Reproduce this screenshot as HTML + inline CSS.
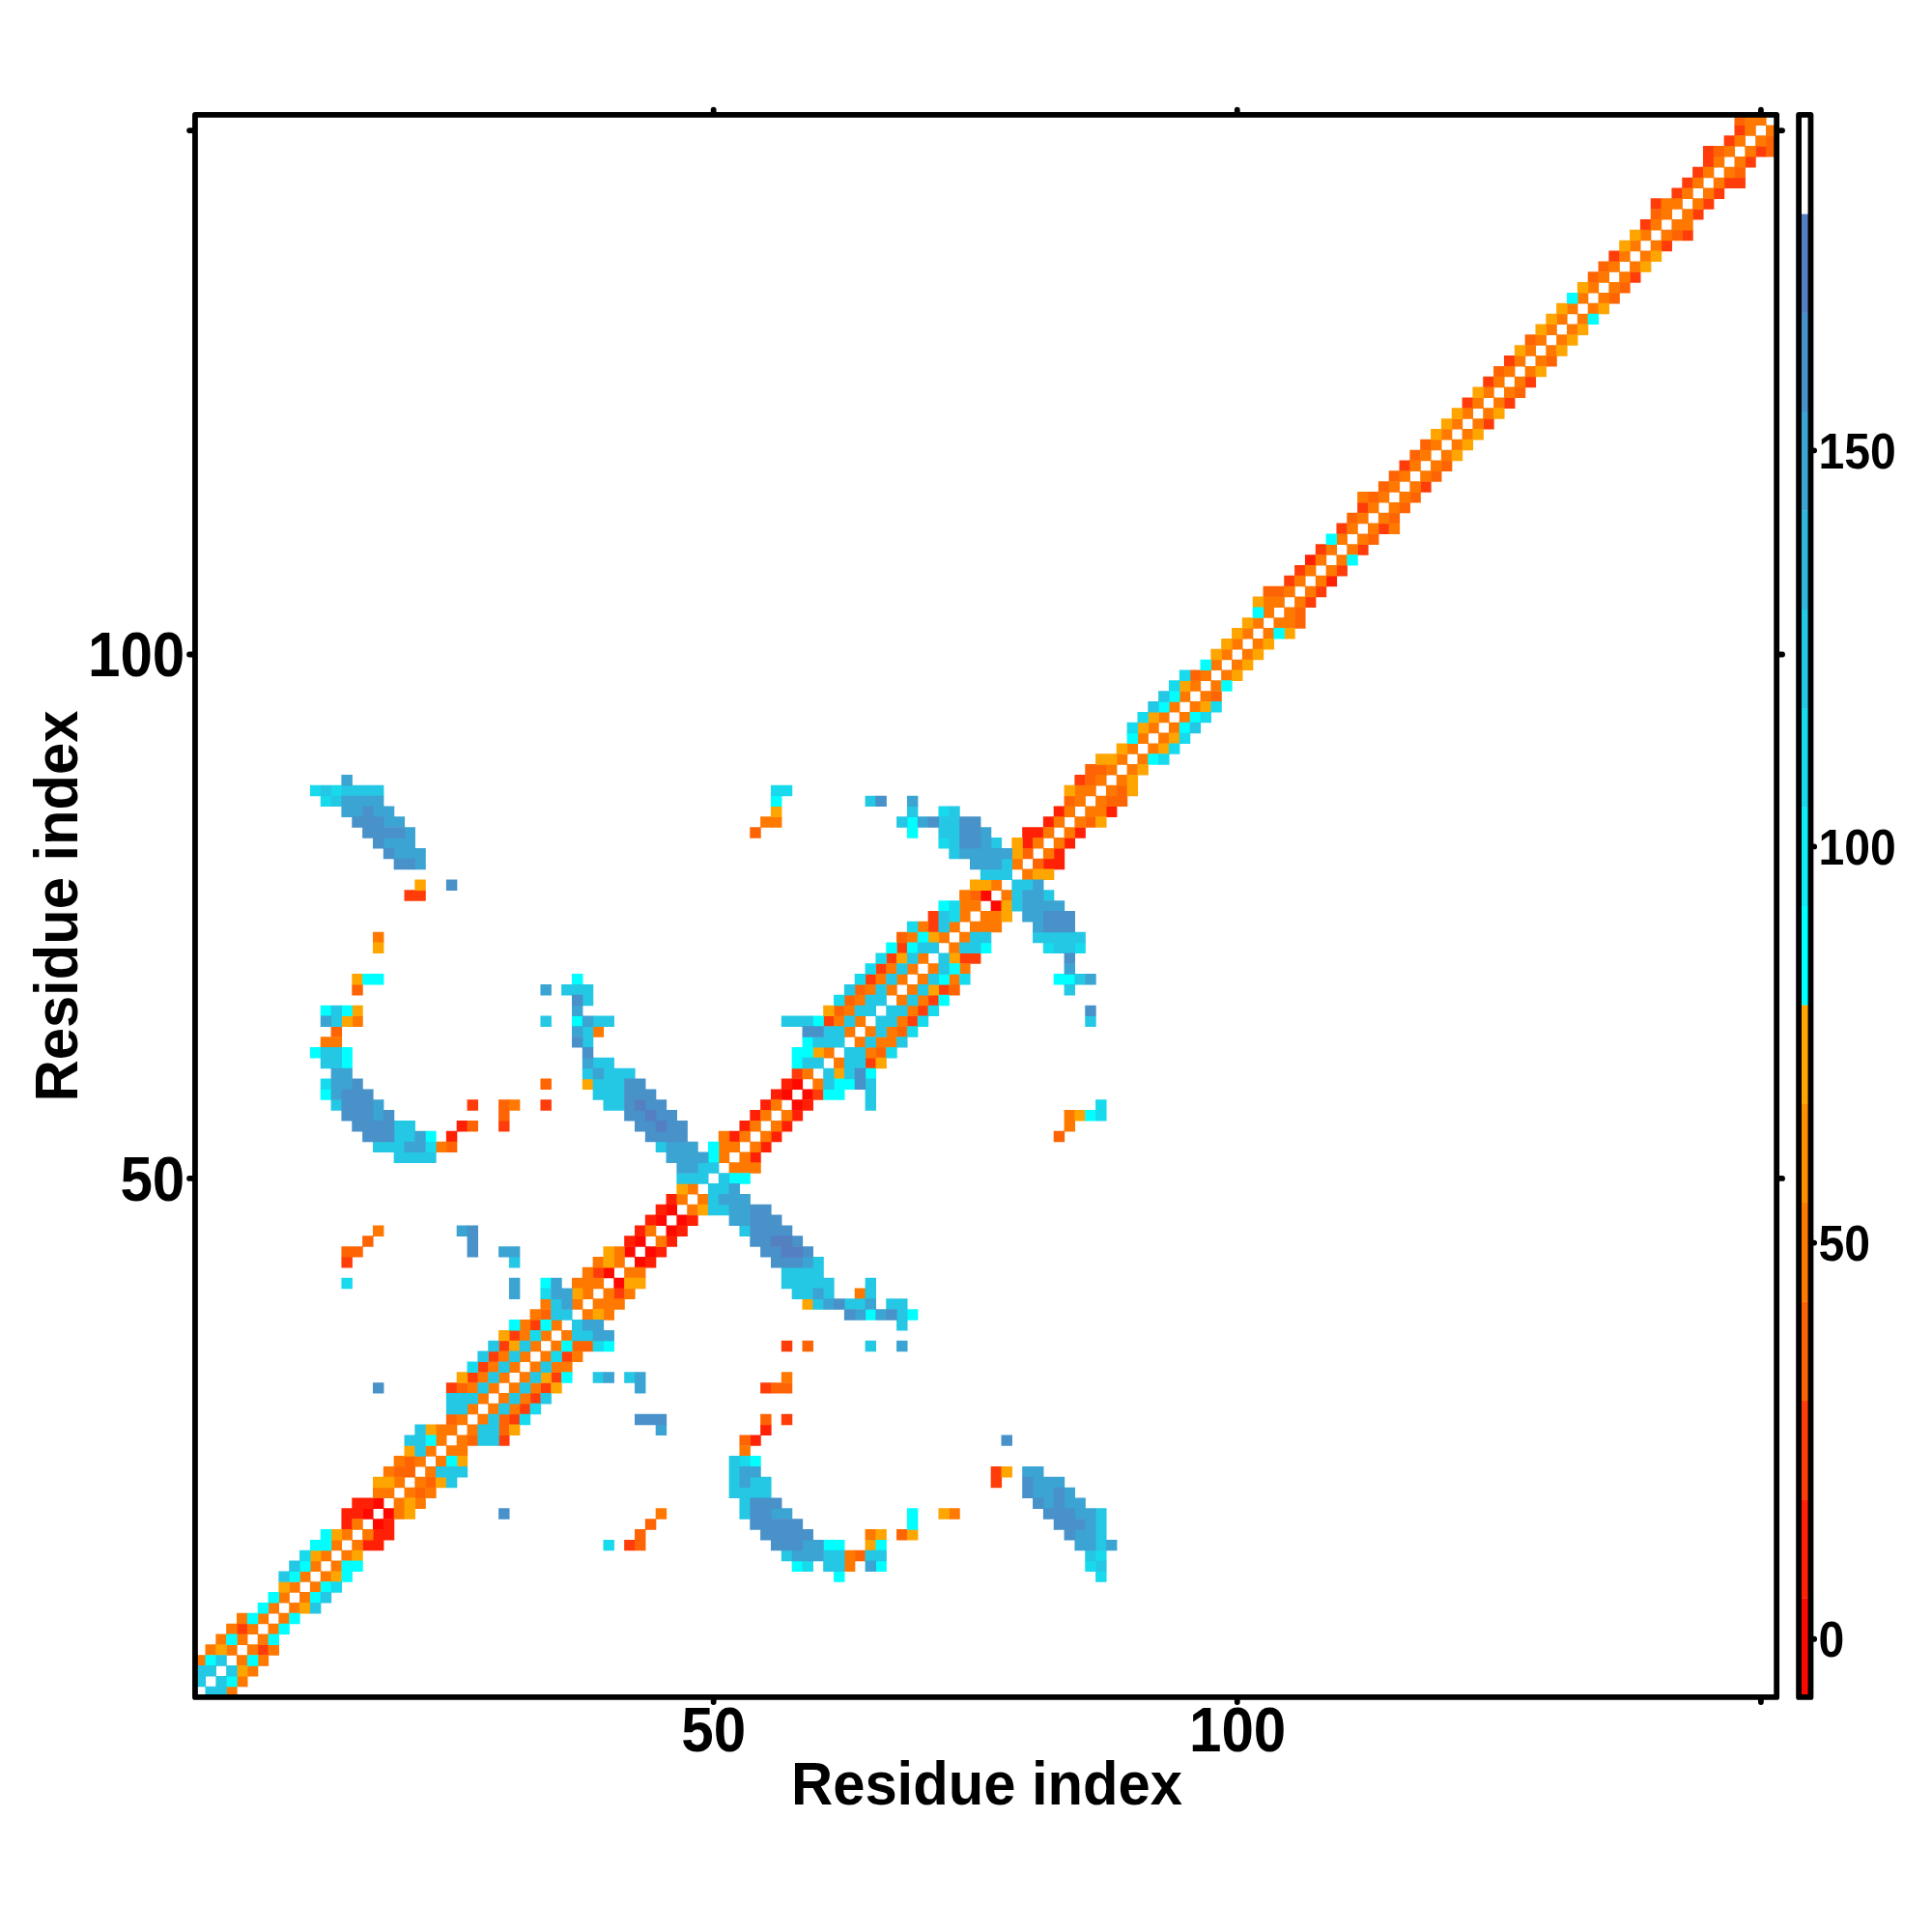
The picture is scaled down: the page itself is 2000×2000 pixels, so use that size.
<!DOCTYPE html>
<html><head><meta charset="utf-8"><title>Residue contact map</title>
<style>html,body{margin:0;padding:0;background:#fff}svg{display:block}text{font-family:"Liberation Sans",Arial,Helvetica,sans-serif;font-weight:bold;fill:#000}</style>
</head><body>
<svg width="2000" height="2000" viewBox="0 0 2000 2000">
<rect width="2000" height="2000" fill="#fff"/>
<g>
<path fill="#FF0800" d="M385.97 1572.18h11.44v11.45h-11.44zM375.13 1561.33h11.44v11.45h-11.44zM396.81 1561.33h11.44v11.45h-11.44zM385.97 1550.49h11.44v11.45h-11.44zM635.35 1322.68h11.44v11.45h-11.44zM624.50 1311.83h11.44v11.45h-11.44zM657.03 1300.98h11.44v11.45h-11.44zM646.19 1290.13h11.44v11.45h-11.44zM667.87 1290.13h11.44v11.45h-11.44zM657.03 1279.28h11.44v11.45h-11.44zM689.56 1268.44h11.44v11.45h-11.44zM678.71 1257.59h11.44v11.45h-11.44zM700.40 1257.59h11.44v11.45h-11.44zM689.56 1246.74h11.44v11.45h-11.44zM819.67 1138.26h11.44v11.45h-11.44zM808.82 1127.41h11.44v11.45h-11.44zM830.51 1127.41h11.44v11.45h-11.44zM819.67 1116.56h11.44v11.45h-11.44zM1025.67 932.15h11.44v11.45h-11.44zM1014.83 921.30h11.44v11.45h-11.44z"/>
<path fill="#FF2006" d="M375.13 1593.88h22.28v11.45h-22.28zM385.97 1583.03h22.28v11.45h-22.28zM353.44 1572.18h11.44v11.45h-11.44zM396.81 1572.18h11.44v11.45h-11.44zM353.44 1561.33h22.28v11.45h-22.28zM364.29 1550.49h22.28v11.45h-22.28zM776.30 1485.40h11.44v11.45h-11.44zM787.14 1474.55h11.44v11.45h-11.44zM667.87 1300.98h11.44v11.45h-11.44zM678.71 1290.13h11.44v11.45h-11.44zM646.19 1279.28h11.44v11.45h-11.44zM689.56 1279.28h11.44v11.45h-11.44zM657.03 1268.44h11.44v11.45h-11.44zM700.40 1268.44h11.44v11.45h-11.44zM667.87 1257.59h11.44v11.45h-11.44zM711.24 1257.59h11.44v11.45h-11.44zM678.71 1246.74h11.44v11.45h-11.44zM689.56 1235.89h11.44v11.45h-11.44zM776.30 1192.50h11.44v11.45h-11.44zM787.14 1181.65h11.44v11.45h-11.44zM461.87 1170.80h11.44v11.45h-11.44zM754.61 1170.80h11.44v11.45h-11.44zM797.98 1170.80h11.44v11.45h-11.44zM472.71 1159.96h11.44v11.45h-11.44zM765.45 1159.96h11.44v11.45h-11.44zM808.82 1159.96h11.44v11.45h-11.44zM776.30 1149.11h11.44v11.45h-11.44zM819.67 1149.11h11.44v11.45h-11.44zM787.14 1138.26h11.44v11.45h-11.44zM830.51 1138.26h11.44v11.45h-11.44zM797.98 1127.41h11.44v11.45h-11.44zM808.82 1116.56h11.44v11.45h-11.44zM1079.88 888.75h22.28v11.45h-22.28zM1090.73 877.91h11.44v11.45h-11.44zM1058.20 867.06h11.44v11.45h-11.44zM1101.57 867.06h11.44v11.45h-11.44zM1058.20 856.21h22.28v11.45h-22.28zM1112.41 856.21h11.44v11.45h-11.44zM1079.88 845.36h11.44v11.45h-11.44zM1090.73 834.51h11.44v11.45h-11.44zM1144.94 834.51h11.44v11.45h-11.44zM1372.63 595.86h11.44v11.45h-11.44zM1350.94 574.16h11.44v11.45h-11.44z"/>
<path fill="#FF3C0A" d="M266.70 1702.36h11.44v11.45h-11.44zM245.02 1680.66h11.44v11.45h-11.44zM646.19 1593.88h11.44v11.45h-11.44zM1025.67 1528.79h11.44v11.45h-11.44zM1025.67 1517.94h11.44v11.45h-11.44zM516.08 1485.40h11.44v11.45h-11.44zM526.92 1463.70h11.44v11.45h-11.44zM808.82 1463.70h11.44v11.45h-11.44zM537.76 1452.85h11.44v11.45h-11.44zM548.61 1442.01h11.44v11.45h-11.44zM461.87 1431.16h11.44v11.45h-11.44zM559.45 1431.16h11.44v11.45h-11.44zM787.14 1431.16h11.44v11.45h-11.44zM483.55 1420.31h11.44v11.45h-11.44zM570.29 1420.31h11.44v11.45h-11.44zM494.39 1409.46h11.44v11.45h-11.44zM505.24 1398.61h11.44v11.45h-11.44zM581.13 1398.61h11.44v11.45h-11.44zM516.08 1387.77h11.44v11.45h-11.44zM808.82 1387.77h11.44v11.45h-11.44zM526.92 1376.92h11.44v11.45h-11.44zM548.61 1366.07h11.44v11.45h-11.44zM635.35 1333.52h11.44v11.45h-11.44zM613.66 1311.83h11.44v11.45h-11.44zM353.44 1300.98h11.44v11.45h-11.44zM516.08 1159.96h11.44v11.45h-11.44zM483.55 1138.26h11.44v11.45h-11.44zM559.45 1138.26h11.44v11.45h-11.44zM841.35 1127.41h11.44v11.45h-11.44zM819.67 1105.72h11.44v11.45h-11.44zM895.56 1094.87h11.44v11.45h-11.44zM852.19 1051.47h11.44v11.45h-11.44zM938.93 1051.47h11.44v11.45h-11.44zM949.77 1040.63h11.44v11.45h-11.44zM960.62 1029.78h11.44v11.45h-11.44zM971.46 1018.93h11.44v11.45h-11.44zM895.56 1008.08h11.44v11.45h-11.44zM906.40 997.23h11.44v11.45h-11.44zM917.25 986.39h11.44v11.45h-11.44zM993.14 986.39h22.28v11.45h-22.28zM928.09 975.54h11.44v11.45h-11.44zM960.62 953.84h11.44v11.45h-11.44zM960.62 942.99h11.44v11.45h-11.44zM418.50 921.30h22.28v11.45h-22.28zM1112.41 801.97h11.44v11.45h-11.44zM1350.94 617.55h11.44v11.45h-11.44zM1361.79 606.70h11.44v11.45h-11.44zM1329.26 595.86h11.44v11.45h-11.44zM1340.10 585.01h11.44v11.45h-11.44zM1383.47 585.01h11.44v11.45h-11.44zM1361.79 563.31h11.44v11.45h-11.44zM1405.15 563.31h11.44v11.45h-11.44zM1383.47 541.62h11.44v11.45h-11.44zM1426.84 541.62h11.44v11.45h-11.44zM1405.15 519.92h11.44v11.45h-11.44zM1470.21 498.22h11.44v11.45h-11.44zM1448.52 476.53h11.44v11.45h-11.44zM1535.26 433.13h11.44v11.45h-11.44zM1513.58 411.44h11.44v11.45h-11.44zM1556.95 411.44h11.44v11.45h-11.44zM1535.26 389.74h11.44v11.45h-11.44zM1578.63 389.74h11.44v11.45h-11.44zM1556.95 368.05h11.44v11.45h-11.44zM1687.06 281.26h11.44v11.45h-11.44zM1665.37 259.57h11.44v11.45h-11.44zM1719.58 248.72h11.44v11.45h-11.44zM1741.27 237.87h11.44v11.45h-11.44zM1697.90 227.02h11.44v11.45h-11.44zM1752.11 216.17h11.44v11.45h-11.44zM1708.74 205.32h11.44v11.45h-11.44zM1762.95 205.32h11.44v11.45h-11.44zM1730.43 194.48h11.44v11.45h-11.44zM1773.80 194.48h11.44v11.45h-11.44zM1741.27 183.63h11.44v11.45h-11.44zM1784.64 183.63h22.28v11.45h-22.28zM1752.11 172.78h11.44v11.45h-11.44zM1762.95 161.93h11.44v11.45h-11.44zM1806.32 161.93h11.44v11.45h-11.44zM1762.95 151.08h11.44v11.45h-11.44zM1817.17 151.08h11.44v11.45h-11.44zM1784.64 140.24h11.44v11.45h-11.44zM1795.48 129.39h11.44v11.45h-11.44z"/>
<path fill="#FF6404" d="M884.72 1604.73h11.44v11.45h-11.44zM657.03 1593.88h11.44v11.45h-11.44zM657.03 1583.03h11.44v11.45h-11.44zM928.09 1583.03h11.44v11.45h-11.44zM667.87 1572.18h11.44v11.45h-11.44zM429.34 1539.64h11.44v11.45h-11.44zM440.18 1528.79h11.44v11.45h-11.44zM407.66 1517.94h22.28v11.45h-22.28zM418.50 1507.09h11.44v11.45h-11.44zM483.55 1485.40h11.44v11.45h-11.44zM765.45 1485.40h11.44v11.45h-11.44zM516.08 1474.55h11.44v11.45h-11.44zM461.87 1463.70h11.44v11.45h-11.44zM516.08 1463.70h11.44v11.45h-11.44zM787.14 1463.70h11.44v11.45h-11.44zM472.71 1431.16h11.44v11.45h-11.44zM797.98 1431.16h22.28v11.45h-22.28zM591.98 1387.77h22.28v11.45h-22.28zM830.51 1387.77h11.44v11.45h-11.44zM559.45 1355.22h11.44v11.45h-11.44zM353.44 1290.13h22.28v11.45h-22.28zM375.13 1279.28h11.44v11.45h-11.44zM461.87 1181.65h11.44v11.45h-11.44zM1090.73 1170.80h11.44v11.45h-11.44zM483.55 1159.96h11.44v11.45h-11.44zM516.08 1149.11h11.44v11.45h-11.44zM516.08 1138.26h11.44v11.45h-11.44zM559.45 1116.56h11.44v11.45h-11.44zM906.40 1084.02h11.44v11.45h-11.44zM342.60 1062.32h11.44v11.45h-11.44zM928.09 1062.32h11.44v11.45h-11.44zM863.04 1040.63h11.44v11.45h-11.44zM873.88 1029.78h11.44v11.45h-11.44zM364.29 1018.93h11.44v11.45h-11.44zM884.72 1018.93h11.44v11.45h-11.44zM982.30 1018.93h11.44v11.45h-11.44zM928.09 964.69h11.44v11.45h-11.44zM1003.99 921.30h11.44v11.45h-11.44zM1069.04 888.75h11.44v11.45h-11.44zM1058.20 877.91h11.44v11.45h-11.44zM776.30 856.21h11.44v11.45h-11.44zM1123.25 845.36h11.44v11.45h-11.44zM1101.57 823.67h11.44v11.45h-11.44zM1144.94 823.67h22.28v11.45h-22.28zM1155.78 812.82h11.44v11.45h-11.44zM1123.25 801.97h11.44v11.45h-11.44zM1123.25 791.12h22.28v11.45h-22.28zM1253.36 715.18h11.44v11.45h-11.44zM1231.68 693.49h11.44v11.45h-11.44zM1340.10 639.25h11.44v11.45h-11.44zM1340.10 628.40h11.44v11.45h-11.44zM1307.57 606.70h22.28v11.45h-22.28zM1416.00 552.46h11.44v11.45h-11.44zM1394.31 530.77h11.44v11.45h-11.44zM1437.68 530.77h11.44v11.45h-11.44zM1448.52 519.92h11.44v11.45h-11.44zM1416.00 509.07h11.44v11.45h-11.44zM1459.37 509.07h11.44v11.45h-11.44zM1426.84 498.22h11.44v11.45h-11.44zM1437.68 487.37h11.44v11.45h-11.44zM1481.05 487.37h11.44v11.45h-11.44zM1491.89 476.53h11.44v11.45h-11.44zM1459.37 465.68h11.44v11.45h-11.44zM1470.21 454.83h11.44v11.45h-11.44zM1567.79 400.59h11.44v11.45h-11.44zM1546.11 378.89h11.44v11.45h-11.44zM1600.32 368.05h11.44v11.45h-11.44zM1578.63 346.35h11.44v11.45h-11.44zM1665.37 302.96h11.44v11.45h-11.44zM1676.21 292.11h11.44v11.45h-11.44zM1643.69 281.26h11.44v11.45h-11.44zM1654.53 270.41h11.44v11.45h-11.44zM1730.43 237.87h11.44v11.45h-11.44zM1708.74 216.17h11.44v11.45h-11.44zM1795.48 172.78h11.44v11.45h-11.44zM1773.80 151.08h11.44v11.45h-11.44zM1828.01 151.08h11.44v11.45h-11.44zM1828.01 140.24h11.44v11.45h-11.44zM1795.48 118.54h11.44v11.45h-11.44z"/>
<path fill="#FF7800" d="M234.18 1745.75h11.44v11.45h-11.44zM245.02 1734.90h11.44v11.45h-11.44zM255.86 1724.06h11.44v11.45h-11.44zM201.65 1713.21h11.44v11.45h-11.44zM245.02 1713.21h11.44v11.45h-11.44zM266.70 1713.21h11.44v11.45h-11.44zM212.49 1702.36h11.44v11.45h-11.44zM234.18 1702.36h11.44v11.45h-11.44zM255.86 1702.36h11.44v11.45h-11.44zM277.55 1702.36h11.44v11.45h-11.44zM223.33 1691.51h11.44v11.45h-11.44zM245.02 1691.51h11.44v11.45h-11.44zM266.70 1691.51h11.44v11.45h-11.44zM234.18 1680.66h11.44v11.45h-11.44zM255.86 1680.66h11.44v11.45h-11.44zM277.55 1680.66h11.44v11.45h-11.44zM245.02 1669.82h11.44v11.45h-11.44zM266.70 1669.82h11.44v11.45h-11.44zM288.39 1669.82h11.44v11.45h-11.44zM277.55 1658.97h11.44v11.45h-11.44zM299.23 1658.97h11.44v11.45h-11.44zM288.39 1648.12h11.44v11.45h-11.44zM310.07 1648.12h11.44v11.45h-11.44zM299.23 1637.27h11.44v11.45h-11.44zM320.92 1637.27h11.44v11.45h-11.44zM310.07 1626.42h11.44v11.45h-11.44zM331.76 1626.42h11.44v11.45h-11.44zM320.92 1615.57h11.44v11.45h-11.44zM342.60 1615.57h11.44v11.45h-11.44zM873.88 1615.57h11.44v11.45h-11.44zM331.76 1604.73h11.44v11.45h-11.44zM353.44 1604.73h11.44v11.45h-11.44zM873.88 1604.73h11.44v11.45h-11.44zM342.60 1593.88h11.44v11.45h-11.44zM364.29 1593.88h11.44v11.45h-11.44zM353.44 1583.03h11.44v11.45h-11.44zM375.13 1583.03h11.44v11.45h-11.44zM895.56 1583.03h11.44v11.45h-11.44zM364.29 1572.18h11.44v11.45h-11.44zM407.66 1561.33h11.44v11.45h-11.44zM678.71 1561.33h11.44v11.45h-11.44zM982.30 1561.33h11.44v11.45h-11.44zM407.66 1550.49h11.44v11.45h-11.44zM429.34 1550.49h11.44v11.45h-11.44zM385.97 1539.64h22.28v11.45h-22.28zM418.50 1539.64h11.44v11.45h-11.44zM440.18 1539.64h11.44v11.45h-11.44zM407.66 1528.79h11.44v11.45h-11.44zM429.34 1528.79h11.44v11.45h-11.44zM396.81 1517.94h11.44v11.45h-11.44zM440.18 1517.94h11.44v11.45h-11.44zM407.66 1507.09h11.44v11.45h-11.44zM429.34 1507.09h11.44v11.45h-11.44zM451.02 1507.09h11.44v11.45h-11.44zM440.18 1496.25h11.44v11.45h-11.44zM461.87 1496.25h22.28v11.45h-22.28zM765.45 1496.25h11.44v11.45h-11.44zM451.02 1485.40h11.44v11.45h-11.44zM472.71 1485.40h11.44v11.45h-11.44zM451.02 1474.55h22.28v11.45h-22.28zM483.55 1474.55h11.44v11.45h-11.44zM472.71 1463.70h11.44v11.45h-11.44zM494.39 1463.70h11.44v11.45h-11.44zM483.55 1452.85h11.44v11.45h-11.44zM505.24 1452.85h11.44v11.45h-11.44zM526.92 1452.85h11.44v11.45h-11.44zM494.39 1442.01h11.44v11.45h-11.44zM516.08 1442.01h11.44v11.45h-11.44zM537.76 1442.01h11.44v11.45h-11.44zM483.55 1431.16h11.44v11.45h-11.44zM505.24 1431.16h11.44v11.45h-11.44zM526.92 1431.16h11.44v11.45h-11.44zM548.61 1431.16h11.44v11.45h-11.44zM494.39 1420.31h11.44v11.45h-11.44zM516.08 1420.31h11.44v11.45h-11.44zM537.76 1420.31h11.44v11.45h-11.44zM808.82 1420.31h11.44v11.45h-11.44zM505.24 1409.46h11.44v11.45h-11.44zM526.92 1409.46h11.44v11.45h-11.44zM548.61 1409.46h11.44v11.45h-11.44zM570.29 1409.46h22.28v11.45h-22.28zM516.08 1398.61h11.44v11.45h-11.44zM537.76 1398.61h11.44v11.45h-11.44zM559.45 1398.61h11.44v11.45h-11.44zM591.98 1398.61h11.44v11.45h-11.44zM548.61 1387.77h11.44v11.45h-11.44zM570.29 1387.77h11.44v11.45h-11.44zM537.76 1376.92h11.44v11.45h-11.44zM559.45 1376.92h11.44v11.45h-11.44zM581.13 1376.92h11.44v11.45h-11.44zM537.76 1366.07h11.44v11.45h-11.44zM570.29 1366.07h11.44v11.45h-11.44zM548.61 1355.22h11.44v11.45h-11.44zM602.82 1355.22h11.44v11.45h-11.44zM624.50 1355.22h11.44v11.45h-11.44zM559.45 1344.37h11.44v11.45h-11.44zM591.98 1344.37h11.44v11.45h-11.44zM613.66 1344.37h33.13v11.45h-33.13zM602.82 1333.52h11.44v11.45h-11.44zM624.50 1333.52h11.44v11.45h-11.44zM646.19 1333.52h11.44v11.45h-11.44zM884.72 1333.52h11.44v11.45h-11.44zM591.98 1322.68h33.13v11.45h-33.13zM602.82 1311.83h11.44v11.45h-11.44zM646.19 1311.83h22.28v11.45h-22.28zM613.66 1300.98h11.44v11.45h-11.44zM635.35 1300.98h11.44v11.45h-11.44zM635.35 1290.13h11.44v11.45h-11.44zM678.71 1279.28h11.44v11.45h-11.44zM385.97 1268.44h11.44v11.45h-11.44zM667.87 1268.44h11.44v11.45h-11.44zM711.24 1246.74h11.44v11.45h-11.44zM700.40 1235.89h11.44v11.45h-11.44zM722.08 1235.89h11.44v11.45h-11.44zM711.24 1225.04h11.44v11.45h-11.44zM754.61 1203.35h33.13v11.45h-33.13zM743.77 1192.50h11.44v11.45h-11.44zM765.45 1192.50h11.44v11.45h-11.44zM451.02 1181.65h11.44v11.45h-11.44zM743.77 1181.65h22.28v11.45h-22.28zM776.30 1181.65h11.44v11.45h-11.44zM743.77 1170.80h11.44v11.45h-11.44zM765.45 1170.80h11.44v11.45h-11.44zM787.14 1170.80h11.44v11.45h-11.44zM776.30 1159.96h11.44v11.45h-11.44zM797.98 1159.96h11.44v11.45h-11.44zM1101.57 1159.96h11.44v11.45h-11.44zM787.14 1149.11h11.44v11.45h-11.44zM808.82 1149.11h11.44v11.45h-11.44zM1101.57 1149.11h11.44v11.45h-11.44zM526.92 1138.26h11.44v11.45h-11.44zM797.98 1138.26h11.44v11.45h-11.44zM841.35 1116.56h11.44v11.45h-11.44zM830.51 1105.72h11.44v11.45h-11.44zM863.04 1094.87h11.44v11.45h-11.44zM852.19 1084.02h11.44v11.45h-11.44zM895.56 1084.02h11.44v11.45h-11.44zM331.76 1073.17h22.28v11.45h-22.28zM884.72 1073.17h11.44v11.45h-11.44zM906.40 1073.17h22.28v11.45h-22.28zM613.66 1062.32h11.44v11.45h-11.44zM873.88 1062.32h11.44v11.45h-11.44zM895.56 1062.32h11.44v11.45h-11.44zM917.25 1062.32h11.44v11.45h-11.44zM364.29 1051.47h11.44v11.45h-11.44zM863.04 1051.47h11.44v11.45h-11.44zM884.72 1051.47h11.44v11.45h-11.44zM928.09 1051.47h11.44v11.45h-11.44zM873.88 1040.63h11.44v11.45h-11.44zM938.93 1040.63h11.44v11.45h-11.44zM884.72 1029.78h11.44v11.45h-11.44zM928.09 1029.78h11.44v11.45h-11.44zM949.77 1029.78h11.44v11.45h-11.44zM895.56 1018.93h11.44v11.45h-11.44zM917.25 1018.93h11.44v11.45h-11.44zM938.93 1018.93h11.44v11.45h-11.44zM906.40 1008.08h11.44v11.45h-11.44zM928.09 1008.08h11.44v11.45h-11.44zM949.77 1008.08h11.44v11.45h-11.44zM982.30 1008.08h11.44v11.45h-11.44zM917.25 997.23h11.44v11.45h-11.44zM938.93 997.23h11.44v11.45h-11.44zM960.62 997.23h11.44v11.45h-11.44zM993.14 997.23h11.44v11.45h-11.44zM949.77 986.39h11.44v11.45h-11.44zM982.30 975.54h11.44v11.45h-11.44zM385.97 964.69h11.44v11.45h-11.44zM938.93 964.69h11.44v11.45h-11.44zM971.46 964.69h11.44v11.45h-11.44zM993.14 964.69h11.44v11.45h-11.44zM949.77 953.84h11.44v11.45h-11.44zM982.30 953.84h11.44v11.45h-11.44zM1003.99 953.84h33.13v11.45h-33.13zM993.14 942.99h11.44v11.45h-11.44zM1014.83 942.99h22.28v11.45h-22.28zM993.14 932.15h22.28v11.45h-22.28zM993.14 921.30h11.44v11.45h-11.44zM1036.51 921.30h11.44v11.45h-11.44zM1025.67 910.45h11.44v11.45h-11.44zM1058.20 899.60h11.44v11.45h-11.44zM1047.36 888.75h11.44v11.45h-11.44zM1079.88 877.91h11.44v11.45h-11.44zM1069.04 867.06h11.44v11.45h-11.44zM1090.73 867.06h11.44v11.45h-11.44zM1079.88 856.21h11.44v11.45h-11.44zM1101.57 856.21h11.44v11.45h-11.44zM787.14 845.36h22.28v11.45h-22.28zM1090.73 845.36h11.44v11.45h-11.44zM1112.41 845.36h11.44v11.45h-11.44zM1101.57 834.51h11.44v11.45h-11.44zM1123.25 834.51h22.28v11.45h-22.28zM1112.41 823.67h11.44v11.45h-11.44zM1134.10 823.67h11.44v11.45h-11.44zM1112.41 812.82h22.28v11.45h-22.28zM1144.94 812.82h11.44v11.45h-11.44zM1134.10 801.97h11.44v11.45h-11.44zM1155.78 801.97h11.44v11.45h-11.44zM1144.94 791.12h11.44v11.45h-11.44zM1166.62 791.12h11.44v11.45h-11.44zM1155.78 780.27h11.44v11.45h-11.44zM1177.46 780.27h11.44v11.45h-11.44zM1166.62 769.42h11.44v11.45h-11.44zM1188.31 769.42h11.44v11.45h-11.44zM1177.46 758.58h11.44v11.45h-11.44zM1199.15 758.58h11.44v11.45h-11.44zM1188.31 747.73h11.44v11.45h-11.44zM1209.99 747.73h11.44v11.45h-11.44zM1199.15 736.88h11.44v11.45h-11.44zM1220.83 736.88h11.44v11.45h-11.44zM1209.99 726.03h11.44v11.45h-11.44zM1231.68 726.03h11.44v11.45h-11.44zM1220.83 715.18h11.44v11.45h-11.44zM1242.52 715.18h11.44v11.45h-11.44zM1231.68 704.34h11.44v11.45h-11.44zM1253.36 704.34h11.44v11.45h-11.44zM1242.52 693.49h11.44v11.45h-11.44zM1264.20 693.49h11.44v11.45h-11.44zM1253.36 682.64h11.44v11.45h-11.44zM1275.05 682.64h11.44v11.45h-11.44zM1264.20 671.79h11.44v11.45h-11.44zM1285.89 671.79h11.44v11.45h-11.44zM1275.05 660.94h11.44v11.45h-11.44zM1296.73 660.94h11.44v11.45h-11.44zM1285.89 650.10h11.44v11.45h-11.44zM1307.57 650.10h11.44v11.45h-11.44zM1296.73 639.25h11.44v11.45h-11.44zM1318.42 639.25h22.28v11.45h-22.28zM1307.57 628.40h11.44v11.45h-11.44zM1329.26 628.40h11.44v11.45h-11.44zM1307.57 617.55h22.28v11.45h-22.28zM1340.10 617.55h11.44v11.45h-11.44zM1329.26 606.70h11.44v11.45h-11.44zM1350.94 606.70h11.44v11.45h-11.44zM1340.10 595.86h11.44v11.45h-11.44zM1361.79 595.86h11.44v11.45h-11.44zM1350.94 585.01h11.44v11.45h-11.44zM1372.63 585.01h11.44v11.45h-11.44zM1361.79 574.16h11.44v11.45h-11.44zM1383.47 574.16h11.44v11.45h-11.44zM1372.63 563.31h11.44v11.45h-11.44zM1394.31 563.31h11.44v11.45h-11.44zM1383.47 552.46h11.44v11.45h-11.44zM1405.15 552.46h11.44v11.45h-11.44zM1394.31 541.62h11.44v11.45h-11.44zM1416.00 541.62h11.44v11.45h-11.44zM1437.68 541.62h11.44v11.45h-11.44zM1405.15 530.77h11.44v11.45h-11.44zM1426.84 530.77h11.44v11.45h-11.44zM1416.00 519.92h11.44v11.45h-11.44zM1437.68 519.92h11.44v11.45h-11.44zM1405.15 509.07h11.44v11.45h-11.44zM1426.84 509.07h11.44v11.45h-11.44zM1448.52 509.07h11.44v11.45h-11.44zM1437.68 498.22h11.44v11.45h-11.44zM1459.37 498.22h11.44v11.45h-11.44zM1448.52 487.37h11.44v11.45h-11.44zM1470.21 487.37h11.44v11.45h-11.44zM1459.37 476.53h11.44v11.45h-11.44zM1481.05 476.53h11.44v11.45h-11.44zM1470.21 465.68h11.44v11.45h-11.44zM1491.89 465.68h11.44v11.45h-11.44zM1481.05 454.83h11.44v11.45h-11.44zM1502.74 454.83h11.44v11.45h-11.44zM1491.89 443.98h11.44v11.45h-11.44zM1513.58 443.98h11.44v11.45h-11.44zM1502.74 433.13h11.44v11.45h-11.44zM1524.42 433.13h11.44v11.45h-11.44zM1513.58 422.29h11.44v11.45h-11.44zM1535.26 422.29h11.44v11.45h-11.44zM1524.42 411.44h11.44v11.45h-11.44zM1546.11 411.44h11.44v11.45h-11.44zM1535.26 400.59h11.44v11.45h-11.44zM1556.95 400.59h11.44v11.45h-11.44zM1546.11 389.74h11.44v11.45h-11.44zM1567.79 389.74h11.44v11.45h-11.44zM1556.95 378.89h11.44v11.45h-11.44zM1578.63 378.89h11.44v11.45h-11.44zM1567.79 368.05h11.44v11.45h-11.44zM1589.48 368.05h11.44v11.45h-11.44zM1578.63 357.20h11.44v11.45h-11.44zM1600.32 357.20h11.44v11.45h-11.44zM1589.48 346.35h11.44v11.45h-11.44zM1611.16 346.35h11.44v11.45h-11.44zM1600.32 335.50h11.44v11.45h-11.44zM1622.00 335.50h11.44v11.45h-11.44zM1611.16 324.65h11.44v11.45h-11.44zM1632.84 324.65h11.44v11.45h-11.44zM1622.00 313.81h11.44v11.45h-11.44zM1643.69 313.81h11.44v11.45h-11.44zM1632.84 302.96h11.44v11.45h-11.44zM1654.53 302.96h11.44v11.45h-11.44zM1643.69 292.11h11.44v11.45h-11.44zM1665.37 292.11h11.44v11.45h-11.44zM1654.53 281.26h11.44v11.45h-11.44zM1676.21 281.26h11.44v11.45h-11.44zM1665.37 270.41h11.44v11.45h-11.44zM1687.06 270.41h11.44v11.45h-11.44zM1676.21 259.57h11.44v11.45h-11.44zM1697.90 259.57h11.44v11.45h-11.44zM1687.06 248.72h11.44v11.45h-11.44zM1708.74 248.72h11.44v11.45h-11.44zM1697.90 237.87h11.44v11.45h-11.44zM1719.58 237.87h11.44v11.45h-11.44zM1708.74 227.02h11.44v11.45h-11.44zM1730.43 227.02h22.28v11.45h-22.28zM1719.58 216.17h11.44v11.45h-11.44zM1741.27 216.17h11.44v11.45h-11.44zM1719.58 205.32h22.28v11.45h-22.28zM1752.11 205.32h11.44v11.45h-11.44zM1741.27 194.48h11.44v11.45h-11.44zM1762.95 194.48h11.44v11.45h-11.44zM1752.11 183.63h11.44v11.45h-11.44zM1773.80 183.63h11.44v11.45h-11.44zM1762.95 172.78h11.44v11.45h-11.44zM1784.64 172.78h11.44v11.45h-11.44zM1773.80 161.93h11.44v11.45h-11.44zM1795.48 161.93h11.44v11.45h-11.44zM1784.64 151.08h11.44v11.45h-11.44zM1806.32 151.08h11.44v11.45h-11.44zM1795.48 140.24h11.44v11.45h-11.44zM1817.17 140.24h11.44v11.45h-11.44zM1806.32 129.39h11.44v11.45h-11.44zM1828.01 129.39h11.44v11.45h-11.44zM1806.32 118.54h22.28v11.45h-22.28z"/>
<path fill="#FFA500" d="M245.02 1724.06h11.44v11.45h-11.44zM223.33 1702.36h11.44v11.45h-11.44zM310.07 1658.97h11.44v11.45h-11.44zM288.39 1637.27h11.44v11.45h-11.44zM342.60 1626.42h11.44v11.45h-11.44zM320.92 1604.73h11.44v11.45h-11.44zM364.29 1604.73h11.44v11.45h-11.44zM895.56 1593.88h11.44v11.45h-11.44zM342.60 1583.03h11.44v11.45h-11.44zM906.40 1583.03h11.44v11.45h-11.44zM938.93 1583.03h11.44v11.45h-11.44zM418.50 1561.33h11.44v11.45h-11.44zM971.46 1561.33h11.44v11.45h-11.44zM418.50 1550.49h11.44v11.45h-11.44zM385.97 1528.79h22.28v11.45h-22.28zM451.02 1528.79h11.44v11.45h-11.44zM1036.51 1517.94h11.44v11.45h-11.44zM472.71 1507.09h11.44v11.45h-11.44zM418.50 1496.25h11.44v11.45h-11.44zM440.18 1474.55h11.44v11.45h-11.44zM526.92 1474.55h11.44v11.45h-11.44zM570.29 1431.16h11.44v11.45h-11.44zM472.71 1420.31h11.44v11.45h-11.44zM559.45 1420.31h11.44v11.45h-11.44zM526.92 1387.77h11.44v11.45h-11.44zM516.08 1376.92h11.44v11.45h-11.44zM613.66 1355.22h11.44v11.45h-11.44zM830.51 1344.37h11.44v11.45h-11.44zM591.98 1333.52h11.44v11.45h-11.44zM646.19 1322.68h22.28v11.45h-22.28zM624.50 1300.98h11.44v11.45h-11.44zM624.50 1290.13h11.44v11.45h-11.44zM722.08 1246.74h11.44v11.45h-11.44zM700.40 1225.04h11.44v11.45h-11.44zM1112.41 1149.11h11.44v11.45h-11.44zM602.82 1116.56h11.44v11.45h-11.44zM863.04 1105.72h11.44v11.45h-11.44zM906.40 1094.87h11.44v11.45h-11.44zM841.35 1084.02h11.44v11.45h-11.44zM353.44 1051.47h11.44v11.45h-11.44zM364.29 1040.63h11.44v11.45h-11.44zM852.19 1040.63h11.44v11.45h-11.44zM960.62 1018.93h11.44v11.45h-11.44zM364.29 1008.08h11.44v11.45h-11.44zM928.09 986.39h11.44v11.45h-11.44zM982.30 986.39h11.44v11.45h-11.44zM385.97 975.54h11.44v11.45h-11.44zM960.62 964.69h11.44v11.45h-11.44zM1036.51 942.99h11.44v11.45h-11.44zM1036.51 932.15h11.44v11.45h-11.44zM429.34 910.45h11.44v11.45h-11.44zM1003.99 910.45h22.28v11.45h-22.28zM1069.04 899.60h22.28v11.45h-22.28zM1047.36 877.91h11.44v11.45h-11.44zM1047.36 867.06h11.44v11.45h-11.44zM1134.10 845.36h11.44v11.45h-11.44zM797.98 834.51h11.44v11.45h-11.44zM1101.57 812.82h11.44v11.45h-11.44zM1166.62 812.82h11.44v11.45h-11.44zM1166.62 801.97h11.44v11.45h-11.44zM1177.46 791.12h11.44v11.45h-11.44zM1134.10 780.27h22.28v11.45h-22.28zM1155.78 769.42h11.44v11.45h-11.44zM1199.15 769.42h11.44v11.45h-11.44zM1209.99 758.58h11.44v11.45h-11.44zM1177.46 747.73h11.44v11.45h-11.44zM1188.31 736.88h11.44v11.45h-11.44zM1242.52 726.03h11.44v11.45h-11.44zM1220.83 704.34h11.44v11.45h-11.44zM1275.05 693.49h11.44v11.45h-11.44zM1285.89 682.64h11.44v11.45h-11.44zM1253.36 671.79h11.44v11.45h-11.44zM1296.73 671.79h11.44v11.45h-11.44zM1264.20 660.94h11.44v11.45h-11.44zM1307.57 660.94h11.44v11.45h-11.44zM1275.05 650.10h11.44v11.45h-11.44zM1329.26 650.10h11.44v11.45h-11.44zM1285.89 639.25h11.44v11.45h-11.44zM1296.73 617.55h11.44v11.45h-11.44zM1502.74 465.68h11.44v11.45h-11.44zM1513.58 454.83h11.44v11.45h-11.44zM1481.05 443.98h11.44v11.45h-11.44zM1524.42 443.98h11.44v11.45h-11.44zM1491.89 433.13h11.44v11.45h-11.44zM1502.74 422.29h11.44v11.45h-11.44zM1546.11 422.29h11.44v11.45h-11.44zM1524.42 400.59h11.44v11.45h-11.44zM1589.48 378.89h11.44v11.45h-11.44zM1567.79 357.20h11.44v11.45h-11.44zM1611.16 357.20h11.44v11.45h-11.44zM1622.00 346.35h11.44v11.45h-11.44zM1589.48 335.50h11.44v11.45h-11.44zM1632.84 335.50h11.44v11.45h-11.44zM1600.32 324.65h11.44v11.45h-11.44zM1611.16 313.81h11.44v11.45h-11.44zM1654.53 313.81h11.44v11.45h-11.44zM1632.84 292.11h11.44v11.45h-11.44zM1697.90 270.41h11.44v11.45h-11.44zM1708.74 259.57h11.44v11.45h-11.44zM1676.21 248.72h11.44v11.45h-11.44zM1687.06 237.87h11.44v11.45h-11.44z"/>
<path fill="#00FFFF" d="M234.18 1734.90h11.44v11.45h-11.44zM212.49 1713.21h11.44v11.45h-11.44zM255.86 1713.21h11.44v11.45h-11.44zM234.18 1691.51h11.44v11.45h-11.44zM277.55 1691.51h11.44v11.45h-11.44zM288.39 1680.66h11.44v11.45h-11.44zM255.86 1669.82h11.44v11.45h-11.44zM299.23 1669.82h11.44v11.45h-11.44zM266.70 1658.97h11.44v11.45h-11.44zM277.55 1648.12h11.44v11.45h-11.44zM320.92 1648.12h11.44v11.45h-11.44zM331.76 1637.27h11.44v11.45h-11.44zM299.23 1626.42h11.44v11.45h-11.44zM353.44 1626.42h11.44v11.45h-11.44zM863.04 1626.42h11.44v11.45h-11.44zM310.07 1615.57h11.44v11.45h-11.44zM353.44 1615.57h22.28v11.45h-22.28zM819.67 1615.57h11.44v11.45h-11.44zM906.40 1615.57h11.44v11.45h-11.44zM320.92 1593.88h22.28v11.45h-22.28zM852.19 1593.88h22.28v11.45h-22.28zM906.40 1593.88h11.44v11.45h-11.44zM331.76 1583.03h11.44v11.45h-11.44zM938.93 1572.18h11.44v11.45h-11.44zM938.93 1561.33h11.44v11.45h-11.44zM461.87 1507.09h11.44v11.45h-11.44zM776.30 1507.09h11.44v11.45h-11.44zM440.18 1485.40h11.44v11.45h-11.44zM581.13 1420.31h11.44v11.45h-11.44zM581.13 1387.77h11.44v11.45h-11.44zM624.50 1387.77h11.44v11.45h-11.44zM526.92 1366.07h11.44v11.45h-11.44zM559.45 1366.07h11.44v11.45h-11.44zM895.56 1355.22h11.44v11.45h-11.44zM938.93 1355.22h11.44v11.45h-11.44zM559.45 1322.68h11.44v11.45h-11.44zM754.61 1214.20h22.28v11.45h-22.28zM732.93 1192.50h11.44v11.45h-11.44zM732.93 1181.65h11.44v11.45h-11.44zM440.18 1170.80h11.44v11.45h-11.44zM1123.25 1149.11h11.44v11.45h-11.44zM331.76 1127.41h11.44v11.45h-11.44zM852.19 1127.41h22.28v11.45h-22.28zM863.04 1116.56h22.28v11.45h-22.28zM895.56 1105.72h11.44v11.45h-11.44zM353.44 1094.87h11.44v11.45h-11.44zM819.67 1094.87h11.44v11.45h-11.44zM320.92 1084.02h11.44v11.45h-11.44zM353.44 1084.02h11.44v11.45h-11.44zM819.67 1084.02h22.28v11.45h-22.28zM830.51 1073.17h11.44v11.45h-11.44zM591.98 1051.47h11.44v11.45h-11.44zM841.35 1051.47h11.44v11.45h-11.44zM331.76 1040.63h11.44v11.45h-11.44zM353.44 1040.63h11.44v11.45h-11.44zM971.46 1029.78h11.44v11.45h-11.44zM375.13 1008.08h22.28v11.45h-22.28zM591.98 1008.08h11.44v11.45h-11.44zM971.46 1008.08h11.44v11.45h-11.44zM1090.73 1008.08h22.28v11.45h-22.28zM982.30 997.23h11.44v11.45h-11.44zM917.25 975.54h11.44v11.45h-11.44zM938.93 975.54h11.44v11.45h-11.44zM1014.83 975.54h11.44v11.45h-11.44zM949.77 964.69h11.44v11.45h-11.44zM971.46 932.15h11.44v11.45h-11.44zM938.93 856.21h11.44v11.45h-11.44zM938.93 845.36h11.44v11.45h-11.44zM797.98 823.67h11.44v11.45h-11.44zM1188.31 780.27h11.44v11.45h-11.44zM1166.62 758.58h11.44v11.45h-11.44zM1220.83 747.73h11.44v11.45h-11.44zM1231.68 736.88h11.44v11.45h-11.44zM1199.15 726.03h11.44v11.45h-11.44zM1209.99 715.18h11.44v11.45h-11.44zM1264.20 704.34h11.44v11.45h-11.44zM1242.52 682.64h11.44v11.45h-11.44zM1318.42 650.10h11.44v11.45h-11.44zM1296.73 628.40h11.44v11.45h-11.44zM1394.31 574.16h11.44v11.45h-11.44zM1372.63 552.46h11.44v11.45h-11.44zM1643.69 324.65h11.44v11.45h-11.44zM1622.00 302.96h11.44v11.45h-11.44z"/>
<path fill="#18DAED" d="M342.60 1637.27h11.44v11.45h-11.44zM1134.10 1626.42h11.44v11.45h-11.44zM830.51 1615.57h11.44v11.45h-11.44zM1123.25 1615.57h11.44v11.45h-11.44zM310.07 1604.73h11.44v11.45h-11.44zM1134.10 1604.73h11.44v11.45h-11.44zM624.50 1593.88h11.44v11.45h-11.44zM765.45 1507.09h11.44v11.45h-11.44zM537.76 1463.70h11.44v11.45h-11.44zM548.61 1452.85h11.44v11.45h-11.44zM483.55 1409.46h11.44v11.45h-11.44zM570.29 1398.61h11.44v11.45h-11.44zM613.66 1387.77h11.44v11.45h-11.44zM548.61 1376.92h11.44v11.45h-11.44zM559.45 1333.52h11.44v11.45h-11.44zM353.44 1322.68h11.44v11.45h-11.44zM440.18 1181.65h11.44v11.45h-11.44zM1134.10 1149.11h11.44v11.45h-11.44zM1134.10 1138.26h11.44v11.45h-11.44zM331.76 1116.56h11.44v11.45h-11.44zM917.25 1084.02h11.44v11.45h-11.44zM938.93 1062.32h11.44v11.45h-11.44zM949.77 1051.47h11.44v11.45h-11.44zM960.62 1040.63h11.44v11.45h-11.44zM863.04 1029.78h11.44v11.45h-11.44zM884.72 1008.08h11.44v11.45h-11.44zM993.14 1008.08h11.44v11.45h-11.44zM895.56 997.23h11.44v11.45h-11.44zM906.40 986.39h11.44v11.45h-11.44zM1079.88 975.54h11.44v11.45h-11.44zM1112.41 975.54h11.44v11.45h-11.44zM938.93 953.84h11.44v11.45h-11.44zM982.30 942.99h11.44v11.45h-11.44zM982.30 932.15h11.44v11.45h-11.44zM971.46 867.06h11.44v11.45h-11.44zM971.46 834.51h11.44v11.45h-11.44zM331.76 823.67h11.44v11.45h-11.44zM320.92 812.82h11.44v11.45h-11.44zM342.60 812.82h11.44v11.45h-11.44zM797.98 812.82h22.28v11.45h-22.28zM1199.15 780.27h11.44v11.45h-11.44zM1209.99 769.42h11.44v11.45h-11.44zM1220.83 758.58h11.44v11.45h-11.44zM1166.62 747.73h11.44v11.45h-11.44zM1177.46 736.88h11.44v11.45h-11.44zM1242.52 736.88h11.44v11.45h-11.44zM1253.36 726.03h11.44v11.45h-11.44zM1209.99 704.34h11.44v11.45h-11.44zM1220.83 693.49h11.44v11.45h-11.44z"/>
<path fill="#24C8E4" d="M212.49 1745.75h22.28v11.45h-22.28zM201.65 1734.90h11.44v11.45h-11.44zM223.33 1734.90h11.44v11.45h-11.44zM201.65 1724.06h22.28v11.45h-22.28zM234.18 1724.06h11.44v11.45h-11.44zM223.33 1713.21h11.44v11.45h-11.44zM320.92 1658.97h11.44v11.45h-11.44zM331.76 1648.12h11.44v11.45h-11.44zM288.39 1626.42h11.44v11.45h-11.44zM299.23 1615.57h11.44v11.45h-11.44zM852.19 1615.57h22.28v11.45h-22.28zM1134.10 1615.57h11.44v11.45h-11.44zM808.82 1604.73h11.44v11.45h-11.44zM852.19 1604.73h22.28v11.45h-22.28zM895.56 1604.73h22.28v11.45h-22.28zM1123.25 1604.73h11.44v11.45h-11.44zM1134.10 1593.88h11.44v11.45h-11.44zM1134.10 1583.03h11.44v11.45h-11.44zM1134.10 1572.18h11.44v11.45h-11.44zM765.45 1561.33h11.44v11.45h-11.44zM1134.10 1561.33h11.44v11.45h-11.44zM765.45 1550.49h11.44v11.45h-11.44zM754.61 1539.64h43.97v11.45h-43.97zM461.87 1528.79h11.44v11.45h-11.44zM754.61 1528.79h11.44v11.45h-11.44zM776.30 1528.79h22.28v11.45h-22.28zM451.02 1517.94h33.13v11.45h-33.13zM754.61 1517.94h11.44v11.45h-11.44zM754.61 1507.09h11.44v11.45h-11.44zM429.34 1496.25h11.44v11.45h-11.44zM418.50 1485.40h22.28v11.45h-22.28zM494.39 1485.40h22.28v11.45h-22.28zM429.34 1474.55h11.44v11.45h-11.44zM494.39 1474.55h22.28v11.45h-22.28zM505.24 1463.70h11.44v11.45h-11.44zM461.87 1452.85h22.28v11.45h-22.28zM516.08 1452.85h11.44v11.45h-11.44zM461.87 1442.01h33.13v11.45h-33.13zM526.92 1442.01h11.44v11.45h-11.44zM559.45 1442.01h11.44v11.45h-11.44zM494.39 1431.16h11.44v11.45h-11.44zM537.76 1431.16h11.44v11.45h-11.44zM505.24 1420.31h11.44v11.45h-11.44zM548.61 1420.31h11.44v11.45h-11.44zM613.66 1420.31h11.44v11.45h-11.44zM646.19 1420.31h11.44v11.45h-11.44zM516.08 1409.46h11.44v11.45h-11.44zM559.45 1409.46h11.44v11.45h-11.44zM494.39 1398.61h11.44v11.45h-11.44zM526.92 1398.61h11.44v11.45h-11.44zM505.24 1387.77h11.44v11.45h-11.44zM537.76 1387.77h11.44v11.45h-11.44zM895.56 1387.77h11.44v11.45h-11.44zM591.98 1376.92h22.28v11.45h-22.28zM591.98 1366.07h11.44v11.45h-11.44zM928.09 1366.07h11.44v11.45h-11.44zM570.29 1355.22h22.28v11.45h-22.28zM928.09 1355.22h11.44v11.45h-11.44zM570.29 1344.37h11.44v11.45h-11.44zM841.35 1344.37h11.44v11.45h-11.44zM873.88 1344.37h22.28v11.45h-22.28zM917.25 1344.37h22.28v11.45h-22.28zM819.67 1333.52h22.28v11.45h-22.28zM852.19 1333.52h11.44v11.45h-11.44zM895.56 1333.52h11.44v11.45h-11.44zM808.82 1322.68h54.81v11.45h-54.81zM895.56 1322.68h11.44v11.45h-11.44zM808.82 1311.83h43.97v11.45h-43.97zM526.92 1300.98h11.44v11.45h-11.44zM841.35 1300.98h11.44v11.45h-11.44zM765.45 1268.44h11.44v11.45h-11.44zM732.93 1246.74h22.28v11.45h-22.28zM732.93 1235.89h11.44v11.45h-11.44zM732.93 1225.04h22.28v11.45h-22.28zM700.40 1214.20h33.13v11.45h-33.13zM743.77 1214.20h11.44v11.45h-11.44zM722.08 1203.35h22.28v11.45h-22.28zM407.66 1192.50h43.97v11.45h-43.97zM385.97 1181.65h33.13v11.45h-33.13zM678.71 1181.65h11.44v11.45h-11.44zM407.66 1170.80h22.28v11.45h-22.28zM407.66 1159.96h22.28v11.45h-22.28zM342.60 1138.26h11.44v11.45h-11.44zM624.50 1138.26h22.28v11.45h-22.28zM895.56 1138.26h11.44v11.45h-11.44zM613.66 1127.41h33.13v11.45h-33.13zM895.56 1127.41h11.44v11.45h-11.44zM613.66 1116.56h33.13v11.45h-33.13zM852.19 1116.56h11.44v11.45h-11.44zM895.56 1116.56h11.44v11.45h-11.44zM602.82 1105.72h11.44v11.45h-11.44zM624.50 1105.72h33.13v11.45h-33.13zM852.19 1105.72h11.44v11.45h-11.44zM873.88 1105.72h11.44v11.45h-11.44zM331.76 1094.87h22.28v11.45h-22.28zM613.66 1094.87h22.28v11.45h-22.28zM830.51 1094.87h22.28v11.45h-22.28zM873.88 1094.87h22.28v11.45h-22.28zM331.76 1084.02h22.28v11.45h-22.28zM873.88 1084.02h22.28v11.45h-22.28zM602.82 1073.17h11.44v11.45h-11.44zM841.35 1073.17h33.13v11.45h-33.13zM895.56 1073.17h11.44v11.45h-11.44zM928.09 1073.17h11.44v11.45h-11.44zM602.82 1062.32h11.44v11.45h-11.44zM852.19 1062.32h22.28v11.45h-22.28zM906.40 1062.32h11.44v11.45h-11.44zM342.60 1051.47h11.44v11.45h-11.44zM559.45 1051.47h11.44v11.45h-11.44zM613.66 1051.47h22.28v11.45h-22.28zM808.82 1051.47h33.13v11.45h-33.13zM873.88 1051.47h11.44v11.45h-11.44zM906.40 1051.47h22.28v11.45h-22.28zM1123.25 1051.47h11.44v11.45h-11.44zM342.60 1040.63h11.44v11.45h-11.44zM884.72 1040.63h22.28v11.45h-22.28zM917.25 1040.63h22.28v11.45h-22.28zM602.82 1029.78h11.44v11.45h-11.44zM895.56 1029.78h22.28v11.45h-22.28zM938.93 1029.78h11.44v11.45h-11.44zM581.13 1018.93h33.13v11.45h-33.13zM873.88 1018.93h11.44v11.45h-11.44zM906.40 1018.93h11.44v11.45h-11.44zM949.77 1018.93h11.44v11.45h-11.44zM1101.57 1018.93h11.44v11.45h-11.44zM917.25 1008.08h11.44v11.45h-11.44zM960.62 1008.08h11.44v11.45h-11.44zM1112.41 1008.08h11.44v11.45h-11.44zM928.09 997.23h11.44v11.45h-11.44zM971.46 997.23h11.44v11.45h-11.44zM938.93 986.39h11.44v11.45h-11.44zM971.46 986.39h11.44v11.45h-11.44zM949.77 975.54h22.28v11.45h-22.28zM993.14 975.54h22.28v11.45h-22.28zM1090.73 975.54h22.28v11.45h-22.28zM1003.99 964.69h22.28v11.45h-22.28zM1069.04 964.69h54.81v11.45h-54.81zM971.46 953.84h11.44v11.45h-11.44zM971.46 942.99h11.44v11.45h-11.44zM1047.36 932.15h11.44v11.45h-11.44zM1047.36 921.30h11.44v11.45h-11.44zM1079.88 921.30h11.44v11.45h-11.44zM1047.36 910.45h22.28v11.45h-22.28zM1014.83 899.60h33.13v11.45h-33.13zM1036.51 888.75h11.44v11.45h-11.44zM982.30 877.91h11.44v11.45h-11.44zM982.30 867.06h11.44v11.45h-11.44zM1025.67 867.06h11.44v11.45h-11.44zM971.46 856.21h22.28v11.45h-22.28zM928.09 845.36h11.44v11.45h-11.44zM971.46 845.36h22.28v11.45h-22.28zM938.93 834.51h11.44v11.45h-11.44zM982.30 834.51h11.44v11.45h-11.44zM342.60 823.67h11.44v11.45h-11.44zM895.56 823.67h11.44v11.45h-11.44zM331.76 812.82h11.44v11.45h-11.44zM353.44 812.82h43.97v11.45h-43.97zM1231.68 747.73h11.44v11.45h-11.44zM1188.31 726.03h11.44v11.45h-11.44zM1199.15 715.18h11.44v11.45h-11.44z"/>
<path fill="#3CA4D2" d="M895.56 1615.57h11.44v11.45h-11.44zM819.67 1604.73h33.13v11.45h-33.13zM830.51 1593.88h22.28v11.45h-22.28zM1112.41 1593.88h22.28v11.45h-22.28zM1144.94 1593.88h11.44v11.45h-11.44zM1112.41 1583.03h22.28v11.45h-22.28zM1123.25 1572.18h11.44v11.45h-11.44zM797.98 1561.33h22.28v11.45h-22.28zM1112.41 1561.33h22.28v11.45h-22.28zM1079.88 1550.49h11.44v11.45h-11.44zM1101.57 1550.49h22.28v11.45h-22.28zM1069.04 1539.64h22.28v11.45h-22.28zM1101.57 1539.64h11.44v11.45h-11.44zM765.45 1528.79h11.44v11.45h-11.44zM1069.04 1528.79h33.13v11.45h-33.13zM765.45 1517.94h22.28v11.45h-22.28zM1058.20 1517.94h22.28v11.45h-22.28zM678.71 1474.55h11.44v11.45h-11.44zM657.03 1431.16h11.44v11.45h-11.44zM624.50 1420.31h11.44v11.45h-11.44zM657.03 1420.31h11.44v11.45h-11.44zM928.09 1387.77h11.44v11.45h-11.44zM613.66 1376.92h22.28v11.45h-22.28zM602.82 1366.07h22.28v11.45h-22.28zM884.72 1355.22h11.44v11.45h-11.44zM906.40 1355.22h11.44v11.45h-11.44zM581.13 1344.37h11.44v11.45h-11.44zM852.19 1344.37h11.44v11.45h-11.44zM895.56 1344.37h11.44v11.45h-11.44zM526.92 1333.52h11.44v11.45h-11.44zM570.29 1333.52h22.28v11.45h-22.28zM841.35 1333.52h11.44v11.45h-11.44zM526.92 1322.68h11.44v11.45h-11.44zM570.29 1322.68h11.44v11.45h-11.44zM830.51 1300.98h11.44v11.45h-11.44zM516.08 1290.13h22.28v11.45h-22.28zM472.71 1268.44h11.44v11.45h-11.44zM754.61 1257.59h22.28v11.45h-22.28zM754.61 1246.74h22.28v11.45h-22.28zM743.77 1235.89h33.13v11.45h-33.13zM754.61 1225.04h11.44v11.45h-11.44zM700.40 1203.35h22.28v11.45h-22.28zM689.56 1192.50h43.97v11.45h-43.97zM418.50 1181.65h22.28v11.45h-22.28zM689.56 1181.65h33.13v11.45h-33.13zM429.34 1170.80h11.44v11.45h-11.44zM385.97 1149.11h11.44v11.45h-11.44zM385.97 1138.26h11.44v11.45h-11.44zM342.60 1127.41h11.44v11.45h-11.44zM342.60 1116.56h22.28v11.45h-22.28zM342.60 1105.72h22.28v11.45h-22.28zM613.66 1105.72h11.44v11.45h-11.44zM602.82 1094.87h11.44v11.45h-11.44zM591.98 1062.32h11.44v11.45h-11.44zM331.76 1051.47h11.44v11.45h-11.44zM602.82 1051.47h11.44v11.45h-11.44zM591.98 1040.63h11.44v11.45h-11.44zM559.45 1018.93h11.44v11.45h-11.44zM1123.25 1008.08h11.44v11.45h-11.44zM1101.57 997.23h11.44v11.45h-11.44zM1069.04 953.84h11.44v11.45h-11.44zM1058.20 942.99h22.28v11.45h-22.28zM1058.20 932.15h43.97v11.45h-43.97zM1058.20 921.30h22.28v11.45h-22.28zM1069.04 910.45h11.44v11.45h-11.44zM429.34 888.75h11.44v11.45h-11.44zM1003.99 888.75h33.13v11.45h-33.13zM407.66 877.91h33.13v11.45h-33.13zM993.14 877.91h54.81v11.45h-54.81zM396.81 867.06h33.13v11.45h-33.13zM1014.83 867.06h11.44v11.45h-11.44zM418.50 856.21h11.44v11.45h-11.44zM1014.83 856.21h11.44v11.45h-11.44zM396.81 845.36h22.28v11.45h-22.28zM949.77 845.36h11.44v11.45h-11.44zM353.44 834.51h22.28v11.45h-22.28zM385.97 834.51h22.28v11.45h-22.28zM353.44 823.67h43.97v11.45h-43.97zM938.93 823.67h11.44v11.45h-11.44zM353.44 801.97h11.44v11.45h-11.44z"/>
<path fill="#4891C9" d="M797.98 1593.88h33.13v11.45h-33.13zM787.14 1583.03h54.81v11.45h-54.81zM1101.57 1583.03h11.44v11.45h-11.44zM776.30 1572.18h54.81v11.45h-54.81zM1090.73 1572.18h33.13v11.45h-33.13zM516.08 1561.33h11.44v11.45h-11.44zM776.30 1561.33h22.28v11.45h-22.28zM1079.88 1561.33h33.13v11.45h-33.13zM776.30 1550.49h33.13v11.45h-33.13zM1069.04 1550.49h11.44v11.45h-11.44zM1090.73 1550.49h11.44v11.45h-11.44zM1058.20 1539.64h11.44v11.45h-11.44zM1090.73 1539.64h11.44v11.45h-11.44zM1058.20 1528.79h11.44v11.45h-11.44zM1036.51 1485.40h11.44v11.45h-11.44zM657.03 1463.70h33.13v11.45h-33.13zM385.97 1431.16h11.44v11.45h-11.44zM873.88 1355.22h11.44v11.45h-11.44zM917.25 1355.22h11.44v11.45h-11.44zM863.04 1344.37h11.44v11.45h-11.44zM797.98 1300.98h33.13v11.45h-33.13zM483.55 1290.13h11.44v11.45h-11.44zM787.14 1290.13h22.28v11.45h-22.28zM830.51 1290.13h11.44v11.45h-11.44zM483.55 1279.28h11.44v11.45h-11.44zM776.30 1279.28h22.28v11.45h-22.28zM819.67 1279.28h11.44v11.45h-11.44zM483.55 1268.44h11.44v11.45h-11.44zM776.30 1268.44h43.97v11.45h-43.97zM776.30 1257.59h33.13v11.45h-33.13zM776.30 1246.74h22.28v11.45h-22.28zM375.13 1170.80h33.13v11.45h-33.13zM667.87 1170.80h43.97v11.45h-43.97zM364.29 1159.96h43.97v11.45h-43.97zM657.03 1159.96h22.28v11.45h-22.28zM689.56 1159.96h22.28v11.45h-22.28zM353.44 1149.11h33.13v11.45h-33.13zM396.81 1149.11h11.44v11.45h-11.44zM646.19 1149.11h22.28v11.45h-22.28zM678.71 1149.11h22.28v11.45h-22.28zM353.44 1138.26h33.13v11.45h-33.13zM646.19 1138.26h11.44v11.45h-11.44zM667.87 1138.26h22.28v11.45h-22.28zM353.44 1127.41h33.13v11.45h-33.13zM646.19 1127.41h33.13v11.45h-33.13zM364.29 1116.56h11.44v11.45h-11.44zM646.19 1116.56h22.28v11.45h-22.28zM884.72 1116.56h11.44v11.45h-11.44zM884.72 1105.72h11.44v11.45h-11.44zM602.82 1084.02h11.44v11.45h-11.44zM591.98 1073.17h11.44v11.45h-11.44zM830.51 1062.32h22.28v11.45h-22.28zM1123.25 1040.63h11.44v11.45h-11.44zM591.98 1029.78h11.44v11.45h-11.44zM1101.57 986.39h11.44v11.45h-11.44zM1079.88 953.84h33.13v11.45h-33.13zM1079.88 942.99h33.13v11.45h-33.13zM461.87 910.45h11.44v11.45h-11.44zM407.66 888.75h22.28v11.45h-22.28zM396.81 877.91h11.44v11.45h-11.44zM385.97 867.06h11.44v11.45h-11.44zM993.14 867.06h22.28v11.45h-22.28zM375.13 856.21h43.97v11.45h-43.97zM993.14 856.21h22.28v11.45h-22.28zM364.29 845.36h33.13v11.45h-33.13zM960.62 845.36h11.44v11.45h-11.44zM993.14 845.36h22.28v11.45h-22.28zM375.13 834.51h11.44v11.45h-11.44zM906.40 823.67h11.44v11.45h-11.44z"/>
<path fill="#547FC0" d="M808.82 1290.13h22.28v11.45h-22.28zM797.98 1279.28h22.28v11.45h-22.28zM678.71 1159.96h11.44v11.45h-11.44zM667.87 1149.11h11.44v11.45h-11.44zM657.03 1138.26h11.44v11.45h-11.44z"/>
</g>
<g>
<rect x="1862.10" y="1654.52" width="12.35" height="102.68" fill="#FF0800"/>
<rect x="1862.10" y="1552.14" width="12.35" height="102.68" fill="#FF2006"/>
<rect x="1862.10" y="1449.76" width="12.35" height="102.68" fill="#FF3C0A"/>
<rect x="1862.10" y="1347.38" width="12.35" height="102.68" fill="#FF6404"/>
<rect x="1862.10" y="1245.01" width="12.35" height="102.68" fill="#FF7800"/>
<rect x="1862.10" y="1142.63" width="12.35" height="102.68" fill="#FF8E00"/>
<rect x="1862.10" y="1040.25" width="12.35" height="102.68" fill="#FFA500"/>
<rect x="1862.10" y="937.87" width="12.35" height="102.68" fill="#00FFFF"/>
<rect x="1862.10" y="835.49" width="12.35" height="102.68" fill="#0CEDF6"/>
<rect x="1862.10" y="733.11" width="12.35" height="102.68" fill="#18DAED"/>
<rect x="1862.10" y="630.73" width="12.35" height="102.68" fill="#24C8E4"/>
<rect x="1862.10" y="528.36" width="12.35" height="102.68" fill="#30B6DB"/>
<rect x="1862.10" y="425.98" width="12.35" height="102.68" fill="#3CA4D2"/>
<rect x="1862.10" y="323.60" width="12.35" height="102.68" fill="#4891C9"/>
<rect x="1862.10" y="221.22" width="12.35" height="102.68" fill="#547FC0"/>
<rect x="1862.10" y="118.84" width="12.35" height="102.68" fill="#FFFFFF"/>
</g>
<g fill="none" stroke="#000" stroke-width="5.8" stroke-linejoin="round" stroke-linecap="round">
<rect x="201.95" y="118.84" width="1637.2" height="1638.06"/>
<rect x="1862.10" y="118.84" width="12.35" height="1638.06"/>
<path d="M738.65 1757.90v4.1"/><path d="M738.65 117.84v-4.1"/><path d="M200.95 1219.92h-4.9"/><path d="M1840.15 1219.92h4.9"/><path d="M1280.77 1757.90v4.1"/><path d="M1280.77 117.84v-4.1"/><path d="M200.95 677.52h-4.9"/><path d="M1840.15 677.52h4.9"/><path d="M1822.89 1757.90v4.1"/><path d="M1822.89 117.84v-4.1"/><path d="M200.95 135.11h-4.9"/><path d="M1840.15 135.11h4.9"/><path d="M1875.45 1696.75h2.7"/><path d="M1875.45 1286.60h2.7"/><path d="M1875.45 876.45h2.7"/><path d="M1875.45 466.30h2.7"/>
</g>
<g>
<text transform="translate(738.70 1812.50) scale(0.9400 1)" font-size="64.00" text-anchor="middle">50</text>
<text transform="translate(1281.10 1812.50) scale(0.9400 1)" font-size="64.00" text-anchor="middle">100</text>
<text transform="translate(191.30 1242.82) scale(0.9400 1)" font-size="64.00" text-anchor="end">50</text>
<text transform="translate(191.30 700.42) scale(0.9400 1)" font-size="64.00" text-anchor="end">100</text>
<text transform="translate(1021.50 1868.30) scale(0.9612 1)" font-size="62.15" text-anchor="middle">Residue index</text>
<text transform="translate(80.10 938.00) rotate(-90) scale(0.9612 1)" font-size="62.15" text-anchor="middle">Residue index</text>
</g>
<g><text transform="translate(1882.40 1715.15) scale(0.9400 1)" font-size="51.20" text-anchor="start">0</text>
<text transform="translate(1882.40 1305.00) scale(0.9400 1)" font-size="51.20" text-anchor="start">50</text>
<text transform="translate(1882.40 894.85) scale(0.9400 1)" font-size="51.20" text-anchor="start">100</text>
<text transform="translate(1882.40 484.70) scale(0.9400 1)" font-size="51.20" text-anchor="start">150</text>
</g>
</svg>
</body></html>
